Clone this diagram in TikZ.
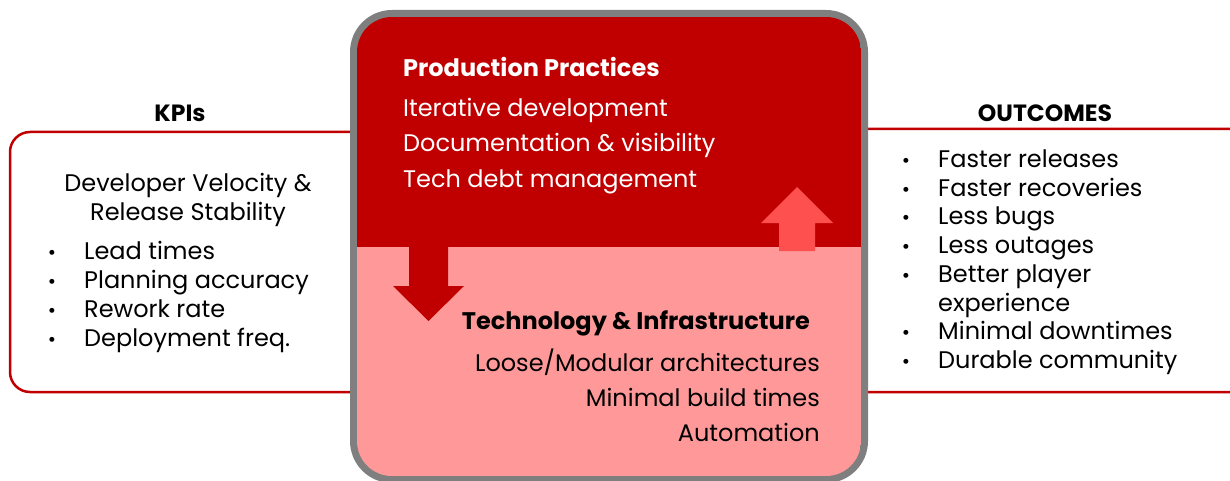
\documentclass[tikz,border=0pt]{standalone}
\usepackage{fontspec}
\setmainfont{Poppins}
\definecolor{darkred}{HTML}{C00000}
\definecolor{lightpink}{HTML}{FF9999}
\definecolor{uparrow}{HTML}{FF5050}
\definecolor{framegray}{HTML}{7F7F7F}
\begin{document}
\begin{tikzpicture}[x=1pt,y=-1pt,
  sidebox/.style={draw=darkred,line width=2.5pt,fill=white,rounded corners=20pt},
  sidetxt/.style={font=\fontsize{24}{29}\selectfont,inner sep=0pt},
  bullettxt/.style={font=\fontsize{20}{29}\selectfont,inner sep=0pt},
  sidettl/.style={font=\fontsize{23.5}{29}\selectfont\bfseries,inner sep=0pt,anchor=base},
  midtxt/.style={font=\fontsize{24}{35}\selectfont,inner sep=0pt},
  midttl/.style={font=\fontsize{24}{35}\selectfont\bfseries,inner sep=0pt},
]
\useasboundingbox (0,0) rectangle (1230,481);
% side boxes
\draw[sidebox] (10,132) rectangle (380,392);
\draw[sidebox] (840,129) rectangle (1250,392);
% central frame
\fill[framegray,rounded corners=42pt] (350,10) rectangle (868,483);
\begin{scope}
  \clip[rounded corners=35pt] (357,17) rectangle (861,476);
  \fill[darkred] (357,17) rectangle (861,247);
  \fill[lightpink] (357,247) rectangle (861,476);
\end{scope}
% arrows
\fill[darkred] (409,246) -- (448,246) -- (448,286) -- (464,286) -- (428.5,321) -- (393,286) -- (409,286) -- cycle;
\fill[uparrow] (779,251) -- (815,251) -- (815,223) -- (833,223) -- (797,187) -- (761,223) -- (779,223) -- cycle;
% KPIs
\node[sidettl] (kpi) at (180,121.5) {KPIs};
\node[sidetxt,anchor=base] (dv1) at (188,191) {Developer Velocity \&};
\node[sidetxt,anchor=base] (dv2) at (188,220) {Release Stability};
\foreach \t [count=\i] in {Lead times,Planning accuracy,Rework rate,Deployment freq.}{
  \node[bullettxt,anchor=base] (kb\i) at (52,{230+29*\i}) {•};
  \node[sidetxt,anchor=base west] (kt\i) at (84,{230+29*\i}) {\t};
}
% OUTCOMES
\node[sidettl] (out) at (1045,121.5) {OUTCOMES};
\foreach \t [count=\i] in {Faster releases,Faster recoveries,Less bugs,Less outages,Better player,experience,Minimal downtimes,Durable community}{
  \node[sidetxt,anchor=base west] (ot\i) at (938,{138.5+28.75*\i}) {\t};
}
\foreach \i in {1,2,3,4,5,7,8}{
  \node[bullettxt,anchor=base] (ob\i) at (906,{138.5+28.75*\i}) {•};
}
% Production practices
\node[midttl,anchor=base west,text=white] (pp) at (403,77) {Production Practices};
\node[midtxt,anchor=base west,text=white] (pp1) at (403,117) {Iterative development};
\node[midtxt,anchor=base west,text=white] (pp2) at (403,152) {Documentation \& visibility};
\node[midtxt,anchor=base west,text=white] (pp3) at (403,187) {Tech debt management};
% Technology
\node[midttl,anchor=base east] (ti) at (810,329) {Technology \& Infrastructure};
\node[midtxt,anchor=base east] (ti1) at (820,371) {Loose/Modular architectures};
\node[midtxt,anchor=base east] (ti2) at (820,406) {Minimal build times};
\node[midtxt,anchor=base east] (ti3) at (820,441) {Automation};
\end{tikzpicture}
\end{document}
